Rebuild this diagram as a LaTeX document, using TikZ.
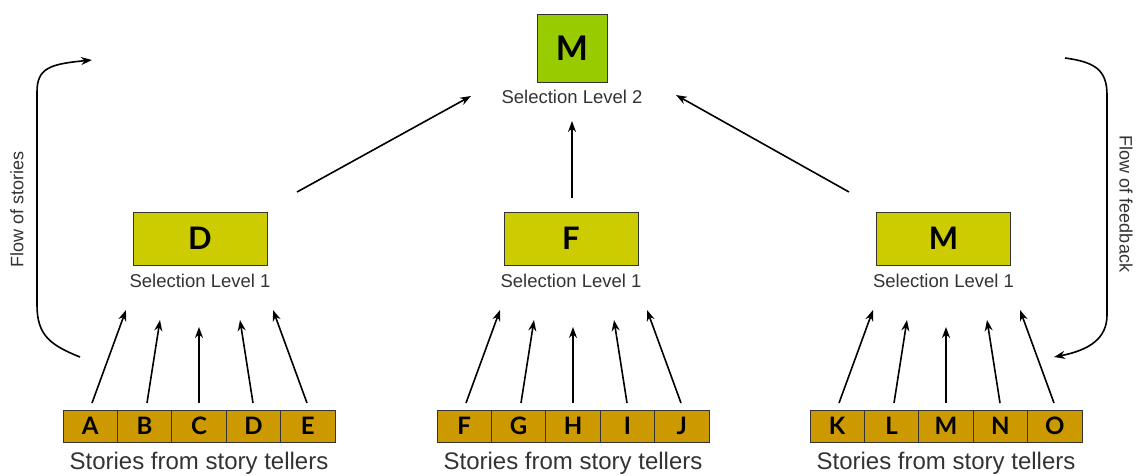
\documentclass[tikz,border=0pt]{standalone}
\usepackage{fontspec}
\setmainfont{Liberation Sans}
\newfontfamily\boxfont{Lato}
\usetikzlibrary{arrows.meta}
\definecolor{topgreen}{HTML}{99CC00}
\definecolor{levelone}{HTML}{CCCC00}
\definecolor{storybox}{HTML}{CC9900}
\definecolor{labelgray}{HTML}{333333}
\tikzset{
  topbox/.style={draw=black!80, line width=0.8pt, fill=topgreen, minimum width=70pt, minimum height=68pt, inner sep=0pt, font=\boxfont\bfseries\fontsize{34}{34}\selectfont},
  lvlbox/.style={draw=black!80, line width=0.8pt, fill=levelone, minimum width=134pt, minimum height=53pt, inner sep=0pt, font=\boxfont\bfseries\fontsize{31}{31}\selectfont},
  cell/.style={draw=black!80, line width=0.8pt, fill=storybox, minimum width=54.4pt, minimum height=32pt, inner sep=0pt, font=\boxfont\bfseries\fontsize{24}{24}\selectfont},
  lvllabel/.style={font=\fontsize{18.5}{18.5}\selectfont, text=labelgray, inner sep=0pt},
  storylabel/.style={font=\fontsize{24}{24}\selectfont, text=labelgray, inner sep=0pt},
  flowlabel/.style={font=\fontsize{18}{18}\selectfont, text=labelgray, inner sep=0pt},
  arr/.style={-{Stealth[length=11pt,width=8pt]}, line width=1.6pt},
  thickarr/.style={-{Stealth[length=11pt,width=8pt]}, line width=2.6pt},
}
\begin{document}
\begin{tikzpicture}[x=1pt,y=-1pt]
\useasboundingbox (0,0) rectangle (1137,475);
% top
\node[topbox] (top) at (572,48) {M};
\node[lvllabel] (toplbl) at (572,97) {Selection Level 2};
% level 1
\node[lvlbox] (l1) at (200,238.5) {D};
\node[lvlbox] (l2) at (571,238.5) {F};
\node[lvlbox] (l3) at (943.5,238.5) {M};
\node[lvllabel] (l1lbl) at (200,281) {Selection Level 1};
\node[lvllabel] (l2lbl) at (571,281) {Selection Level 1};
\node[lvllabel] (l3lbl) at (943.5,281) {Selection Level 1};
% story rows
\foreach \g/\x/\letters in {a/63/{A,B,C,D,E}, b/437/{F,G,H,I,J}, c/810/{K,L,M,N,O}}{
  \foreach \t [count=\i] in \letters {
    \node[cell] (\g\i) at ({\x+27.2+(\i-1)*54.4},426) {\t};
  }
}
\node[storylabel] (s1) at (199,463) {Stories from story tellers};
\node[storylabel] (s2) at (573,463) {Stories from story tellers};
\node[storylabel] (s3) at (946,463) {Stories from story tellers};
% arrow end coordinates
\foreach \g/\dx in {a/0, b/374, c/747}{
  \coordinate (\g e1) at ({126+\dx},310);
  \coordinate (\g e2) at ({160+\dx},320);
  \coordinate (\g e3) at ({199+\dx},327);
  \coordinate (\g e4) at ({240+\dx},320);
  \coordinate (\g e5) at ({273+\dx},310);
  \coordinate (\g s1) at ({92+\dx},403);
  \coordinate (\g s2) at ({147+\dx},403);
  \coordinate (\g s3) at ({199+\dx},403);
  \coordinate (\g s4) at ({253+\dx},403);
  \coordinate (\g s5) at ({307+\dx},403);
}
\foreach \g in {a,b,c}{
  \draw[arr] (\g s1) -- (\g e1);
  \draw[arr] (\g s2) -- (\g e2);
  \draw[arr] (\g s4) -- (\g e4);
  \draw[arr] (\g s5) -- (\g e5);
}
\draw[thickarr] (as3) -- (ae3);
\draw[arr] (bs3) -- (be3);
\draw[thickarr] (cs3) -- (ce3);
% level1 -> level2
\coordinate (u1s) at (297,192);
\coordinate (u1e) at (471,96);
\coordinate (u2s) at (572,198);
\coordinate (u2e) at (572,121);
\coordinate (u3s) at (849,192);
\coordinate (u3e) at (676,95);
\draw[arr] (u1s) -- (u1e);
\draw[thickarr] (u2s) -- (u2e);
\draw[arr] (u3s) -- (u3e);
% flow of stories
\coordinate (fs1) at (80,357);
\coordinate (fs2) at (92,60);
\draw[-{Stealth[length=11pt,width=8pt]}, line width=1.6pt]
  (fs1) .. controls (50,345) and (37,335) .. (37,305)
  -- (37,92) .. controls (37,68) and (50,64) .. (fs2);
\node[flowlabel, rotate=90] (fsl) at (17,209) {Flow of stories};
% flow of feedback
\coordinate (ff1) at (1065,58);
\coordinate (ff2) at (1054,357);
\draw[-{Stealth[length=11pt,width=8pt]}, line width=1.6pt]
  (ff1) .. controls (1095,62) and (1107,70) .. (1107,95)
  -- (1107,315) .. controls (1107,338) and (1090,350) .. (ff2);
\node[flowlabel, rotate=-90] (ffl) at (1126,204) {Flow of feedback};
\end{tikzpicture}
\end{document}
